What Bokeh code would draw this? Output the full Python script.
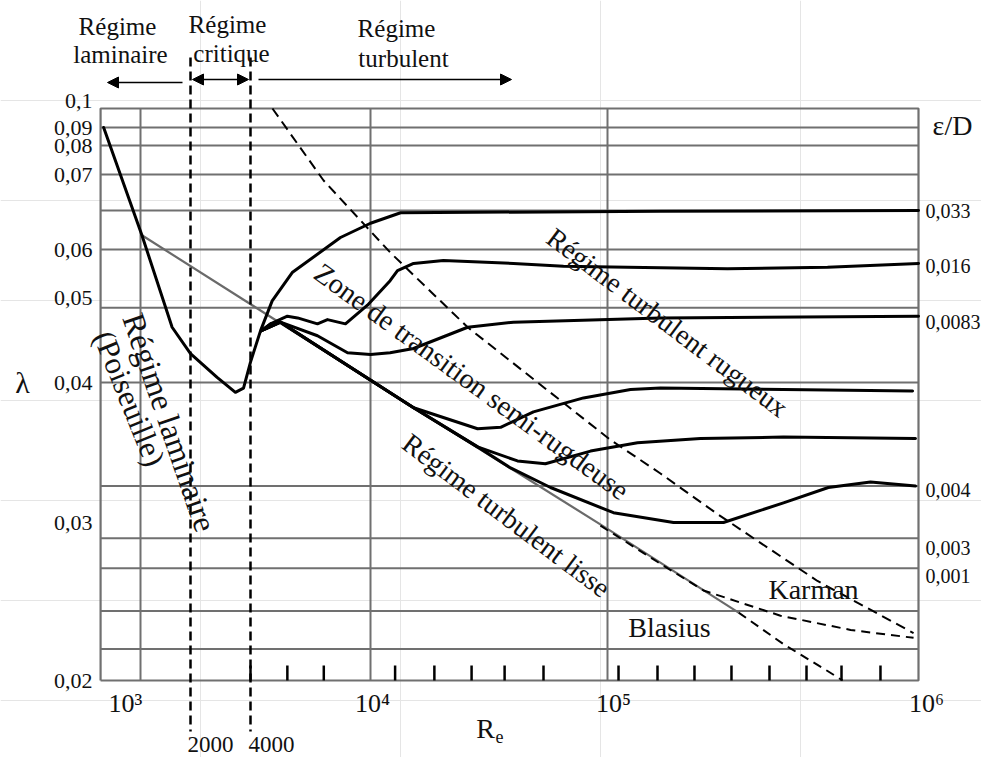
import numpy as np
from bokeh.plotting import figure
from bokeh.models import Range1d, Arrow, NormalHead
from bokeh.core.properties import value
from bokeh.embed import file_html
from bokeh.resources import INLINE

# ---------------- data ----------------
# Non-uniform axis calibration of the drawing (tick value -> drawn position)
RE_TICKS = [1e3, 2e3, 4e3, 1e4, 1e5, 1e6]
RE_POS = [140, 190, 250, 370, 607, 918]
LAM_TICKS = [0.02, 0.03, 0.04, 0.05, 0.06, 0.07, 0.08, 0.09, 0.1]
LAM_POS = [680, 522, 382, 297, 249, 174, 145, 127, 108]

RE_MIN, RE_MAX = 575, 1e6
LAM_MIN, LAM_MAX = 0.02, 0.1

LEFT_LABELS = ["0,1", "0,09", "0,08", "0,07", "0,06", "0,05", "0,04", "0,03", "0,02"]
LEFT_VALUES = [0.1, 0.09, 0.08, 0.07, 0.06, 0.05, 0.04, 0.03, 0.02]
DECADES = [1e3, 1e4, 1e5, 1e6]
DECADE_LABELS = ["10\u00b3", "10\u2074", "10\u2075", "10\u2076"]
RE_CRIT = [2000, 4000]
RE_CRIT_LABELS = ["2000", "4000"]
RIGHT_LABELS = ["0,033", "0,016", "0,0083", "0,004", "0,003", "0,001"]
RIGHT_LAM = [0.0651, 0.0565, 0.0471, 0.0323, 0.0284, 0.0266]

GRID_LAM = [0.09, 0.08, 0.07, 0.0652, 0.06, 0.0488, 0.04, 0.0326, 0.0290, 0.0271, 0.0244, 0.0220]
GRID_RE = [1e3, 1e4, 1e5]
BOTTOM_TICKS_RE = [4000, 5300, 7000, 12700, 18600, 26700, 36800, 53700, 108500,
                   144800, 190400, 250400, 331800, 436400, 565500, 754600]

# laminar + critical + eps/D = 0.033
CURVE_033_RE = [600, 1020, 1550, 2000, 2720, 3360, 3690, 4000, 4320, 4720, 5500, 7950, 10000, 13400, 148000, 1e6]
CURVE_033_LAM = [0.09, 0.0619, 0.0465, 0.0434, 0.0406, 0.0393, 0.0396, 0.0424, 0.0461, 0.0496, 0.0552, 0.0616,
                 0.0635, 0.0649, 0.0651, 0.0652]
CURVE_016_RE = [4350, 4660, 5300, 5730, 6670, 7200, 8260, 9770, 12100, 13000, 15200, 20300, 40100, 65200,
                116000, 243000, 510000, 1e6]
CURVE_016_LAM = [0.0461, 0.0469, 0.0478, 0.0476, 0.0469, 0.0474, 0.0469, 0.0491, 0.0535, 0.0556, 0.0571, 0.0577,
                 0.0571, 0.0565, 0.0563, 0.0560, 0.0563, 0.0571]
CURVE_0083_RE = [4350, 4660, 5030, 6670, 8390, 10000, 12100, 15200, 25700, 40100, 148000, 1e6]
CURVE_0083_LAM = [0.0461, 0.0469, 0.0471, 0.0455, 0.0435, 0.0433, 0.0435, 0.0440, 0.0465, 0.0471, 0.0476, 0.0478]
CURVE_4_RE = [4350, 5030, 8580, 15200, 28300, 35400, 48700, 79200, 118600, 148000, 957000]
CURVE_4_LAM = [0.0461, 0.0471, 0.0418, 0.0382, 0.0367, 0.0368, 0.0379, 0.0389, 0.0395, 0.0396, 0.0394]
CURVE_5_RE = [4350, 5030, 8580, 15200, 28300, 41700, 54700, 84800, 124900, 199000, 368000, 978000]
CURVE_5_LAM = [0.0461, 0.0471, 0.0418, 0.0382, 0.0354, 0.0344, 0.0342, 0.0351, 0.0357, 0.0360, 0.0361, 0.0360]
CURVE_6_RE = [4350, 5030, 8580, 15200, 28300, 39000, 57500, 104500, 163000, 236000, 368000, 513000, 701000, 978000]
CURVE_6_LAM = [0.0461, 0.0471, 0.0418, 0.0382, 0.0354, 0.0339, 0.0325, 0.0307, 0.0300, 0.0300, 0.0314, 0.0325,
               0.0329, 0.0326]

BLASIUS_RE = [1020, 15200, 100000, 264000]
BLASIUS_LAM = [0.0619, 0.0382, 0.0296, 0.0243]
BLASIUS_EXT_RE = [264000, 368000, 510000, 570000]
BLASIUS_EXT_LAM = [0.0243, 0.0223, 0.0206, 0.0200]
KARMAN_RE = [93400, 145000, 203500, 360000, 605000, 964000]
KARMAN_LAM = [0.0298, 0.0275, 0.0257, 0.0241, 0.0232, 0.0227]
ROUGH_LIMIT_RE = [4730, 6990, 12100, 25700, 102200, 148000, 225800, 473300, 964000]
ROUGH_LIMIT_LAM = [0.1, 0.0692, 0.0594, 0.0465, 0.0359, 0.0335, 0.0306, 0.0263, 0.0230]


# ---------------- scales of the drawing ----------------
def _interp_ext(x, xp, fp):
    x = np.atleast_1d(np.asarray(x, dtype=float))
    xp = np.asarray(xp, dtype=float)
    fp = np.asarray(fp, dtype=float)
    y = np.interp(x, xp, fp)
    lo, hi = x < xp[0], x > xp[-1]
    y[lo] = fp[0] + (x[lo] - xp[0]) * (fp[1] - fp[0]) / (xp[1] - xp[0])
    y[hi] = fp[-1] + (x[hi] - xp[-1]) * (fp[-1] - fp[-2]) / (xp[-1] - xp[-2])
    return y


def fx(re):
    return _interp_ext(np.log10(re), np.log10(RE_TICKS), RE_POS)


def fy(lam):
    return _interp_ext(lam, LAM_TICKS, LAM_POS)


SERIF = "Liberation Serif"
GRID_C = "#707070"

p = figure(width=981, height=757, x_range=Range1d(0, 981), y_range=Range1d(757, 0),
           x_axis_location=None, y_axis_location=None, toolbar_location=None,
           output_backend="svg", min_border=0)
p.outline_line_color = None
p.background_fill_color = "white"


def txt(x, y, s, size, angle=0.0, align="center", baseline="middle", xoff=0, yoff=0):
    p.text(x=[x], y=[y], text=[s], angle=np.deg2rad(angle), text_font=value(SERIF),
           text_font_size=f"{size}px", text_align=align, text_baseline=baseline,
           text_color="#111111", x_offset=xoff, y_offset=yoff)


x0, x1 = fx(RE_MIN)[0], fx(RE_MAX)[0]
yb, yt = fy(LAM_MIN)[0], fy(LAM_MAX)[0]

# grid + frame
gy = fy(GRID_LAM)
p.segment(x0=[x0] * len(gy), x1=[x1] * len(gy), y0=gy, y1=gy, line_color=GRID_C, line_width=2)
gx = fx(GRID_RE)
p.segment(x0=gx, x1=gx, y0=[yb] * len(gx), y1=[yt] * len(gx), line_color=GRID_C, line_width=2)
p.line(x=[x0, x1, x1, x0, x0], y=[yb, yb, yt, yt, yb], line_color=GRID_C, line_width=2.2)

# bottom tick marks
tx = fx(BOTTOM_TICKS_RE)
p.segment(x0=tx, x1=tx, y0=[yb] * len(tx), y1=[yb - 15] * len(tx), line_color="black", line_width=2.5)

# smooth-pipe (Blasius) line
p.line(fx(BLASIUS_RE), fy(BLASIUS_LAM), line_color="#6a6a6a", line_width=2.2)

# curves
for re, lam in [(CURVE_033_RE, CURVE_033_LAM), (CURVE_016_RE, CURVE_016_LAM),
                (CURVE_0083_RE, CURVE_0083_LAM), (CURVE_4_RE, CURVE_4_LAM),
                (CURVE_5_RE, CURVE_5_LAM), (CURVE_6_RE, CURVE_6_LAM)]:
    p.line(fx(re), fy(lam), line_color="black", line_width=3, line_join="round", line_cap="round")

# dashed curves
p.line(fx(BLASIUS_EXT_RE), fy(BLASIUS_EXT_LAM), line_color="black", line_width=2, line_dash="9 6")
p.line(fx(KARMAN_RE), fy(KARMAN_LAM), line_color="black", line_width=2, line_dash="9 6")
p.line(fx(ROUGH_LIMIT_RE), fy(ROUGH_LIMIT_LAM), line_color="black", line_width=2, line_dash="10 6")

# critical Reynolds dashed verticals
cx = fx(RE_CRIT)
p.segment(x0=cx, x1=cx, y0=[57] * 2, y1=[731] * 2, line_color="black", line_width=2.5, line_dash="9 5")

# regime arrows
p.add_layout(Arrow(end=NormalHead(size=11, fill_color="black", line_color="black"),
                   x_start=182, y_start=82, x_end=107, y_end=82, line_width=1.5))
p.add_layout(Arrow(start=NormalHead(size=11, fill_color="black", line_color="black"),
                   end=NormalHead(size=11, fill_color="black", line_color="black"),
                   x_start=cx[0] + 2, y_start=79, x_end=cx[1] - 2, y_end=79, line_width=1.5))
p.add_layout(Arrow(end=NormalHead(size=11, fill_color="black", line_color="black"),
                   x_start=cx[1] + 8, y_start=79, x_end=511, y_end=79, line_width=1.5))

# headers
txt(117, 26, "Régime", 25)
txt(120, 54, "laminaire", 25)
txt(227, 24, "Régime", 25)
txt(231, 53, "critique", 25)
txt(396, 28, "Régime", 25)
txt(403, 58, "turbulent", 25)

# left tick labels
for v, s in zip(LEFT_VALUES, LEFT_LABELS):
    txt(92, fy(v)[0], s, 22, align="right", yoff=(-8 if v == 0.1 else 0))
txt(22, 382, "λ", 30)

# right labels
txt(952, 125, "ε/D", 28)
for v, s in zip(RIGHT_LAM, RIGHT_LABELS):
    txt(925, fy(v)[0], s, 20, align="left")

# bottom labels
DECADE_DX = [-15, 2, 6, 8]
for v, s, dx in zip(DECADES, DECADE_LABELS, DECADE_DX):
    txt(fx(v)[0] + dx, 703, s, 26)
txt(485, 728, "R", 28)
txt(499, 736, "e", 18)
for v, s in zip(RE_CRIT, RE_CRIT_LABELS):
    txt(fx(v)[0] + (20 if v == 2000 else 21), 744, s, 23)

# in-plot annotations
txt(169, 422, "Régime laminaire", 32, angle=-71)
txt(129, 398, "(Poiseuille)", 31, angle=-68)
txt(471, 381, "Zone de transition semi-rugdeuse", 28.5, angle=-36)
txt(667, 322, "Régime turbulent rugueux", 28, angle=-37)
txt(506, 515, "Régime turbulent lisse", 28, angle=-37)
txt(813, 589, "Karman", 28)
txt(669, 627, "Blasius", 28)

open("out.html", "w").write(file_html(p, INLINE))
